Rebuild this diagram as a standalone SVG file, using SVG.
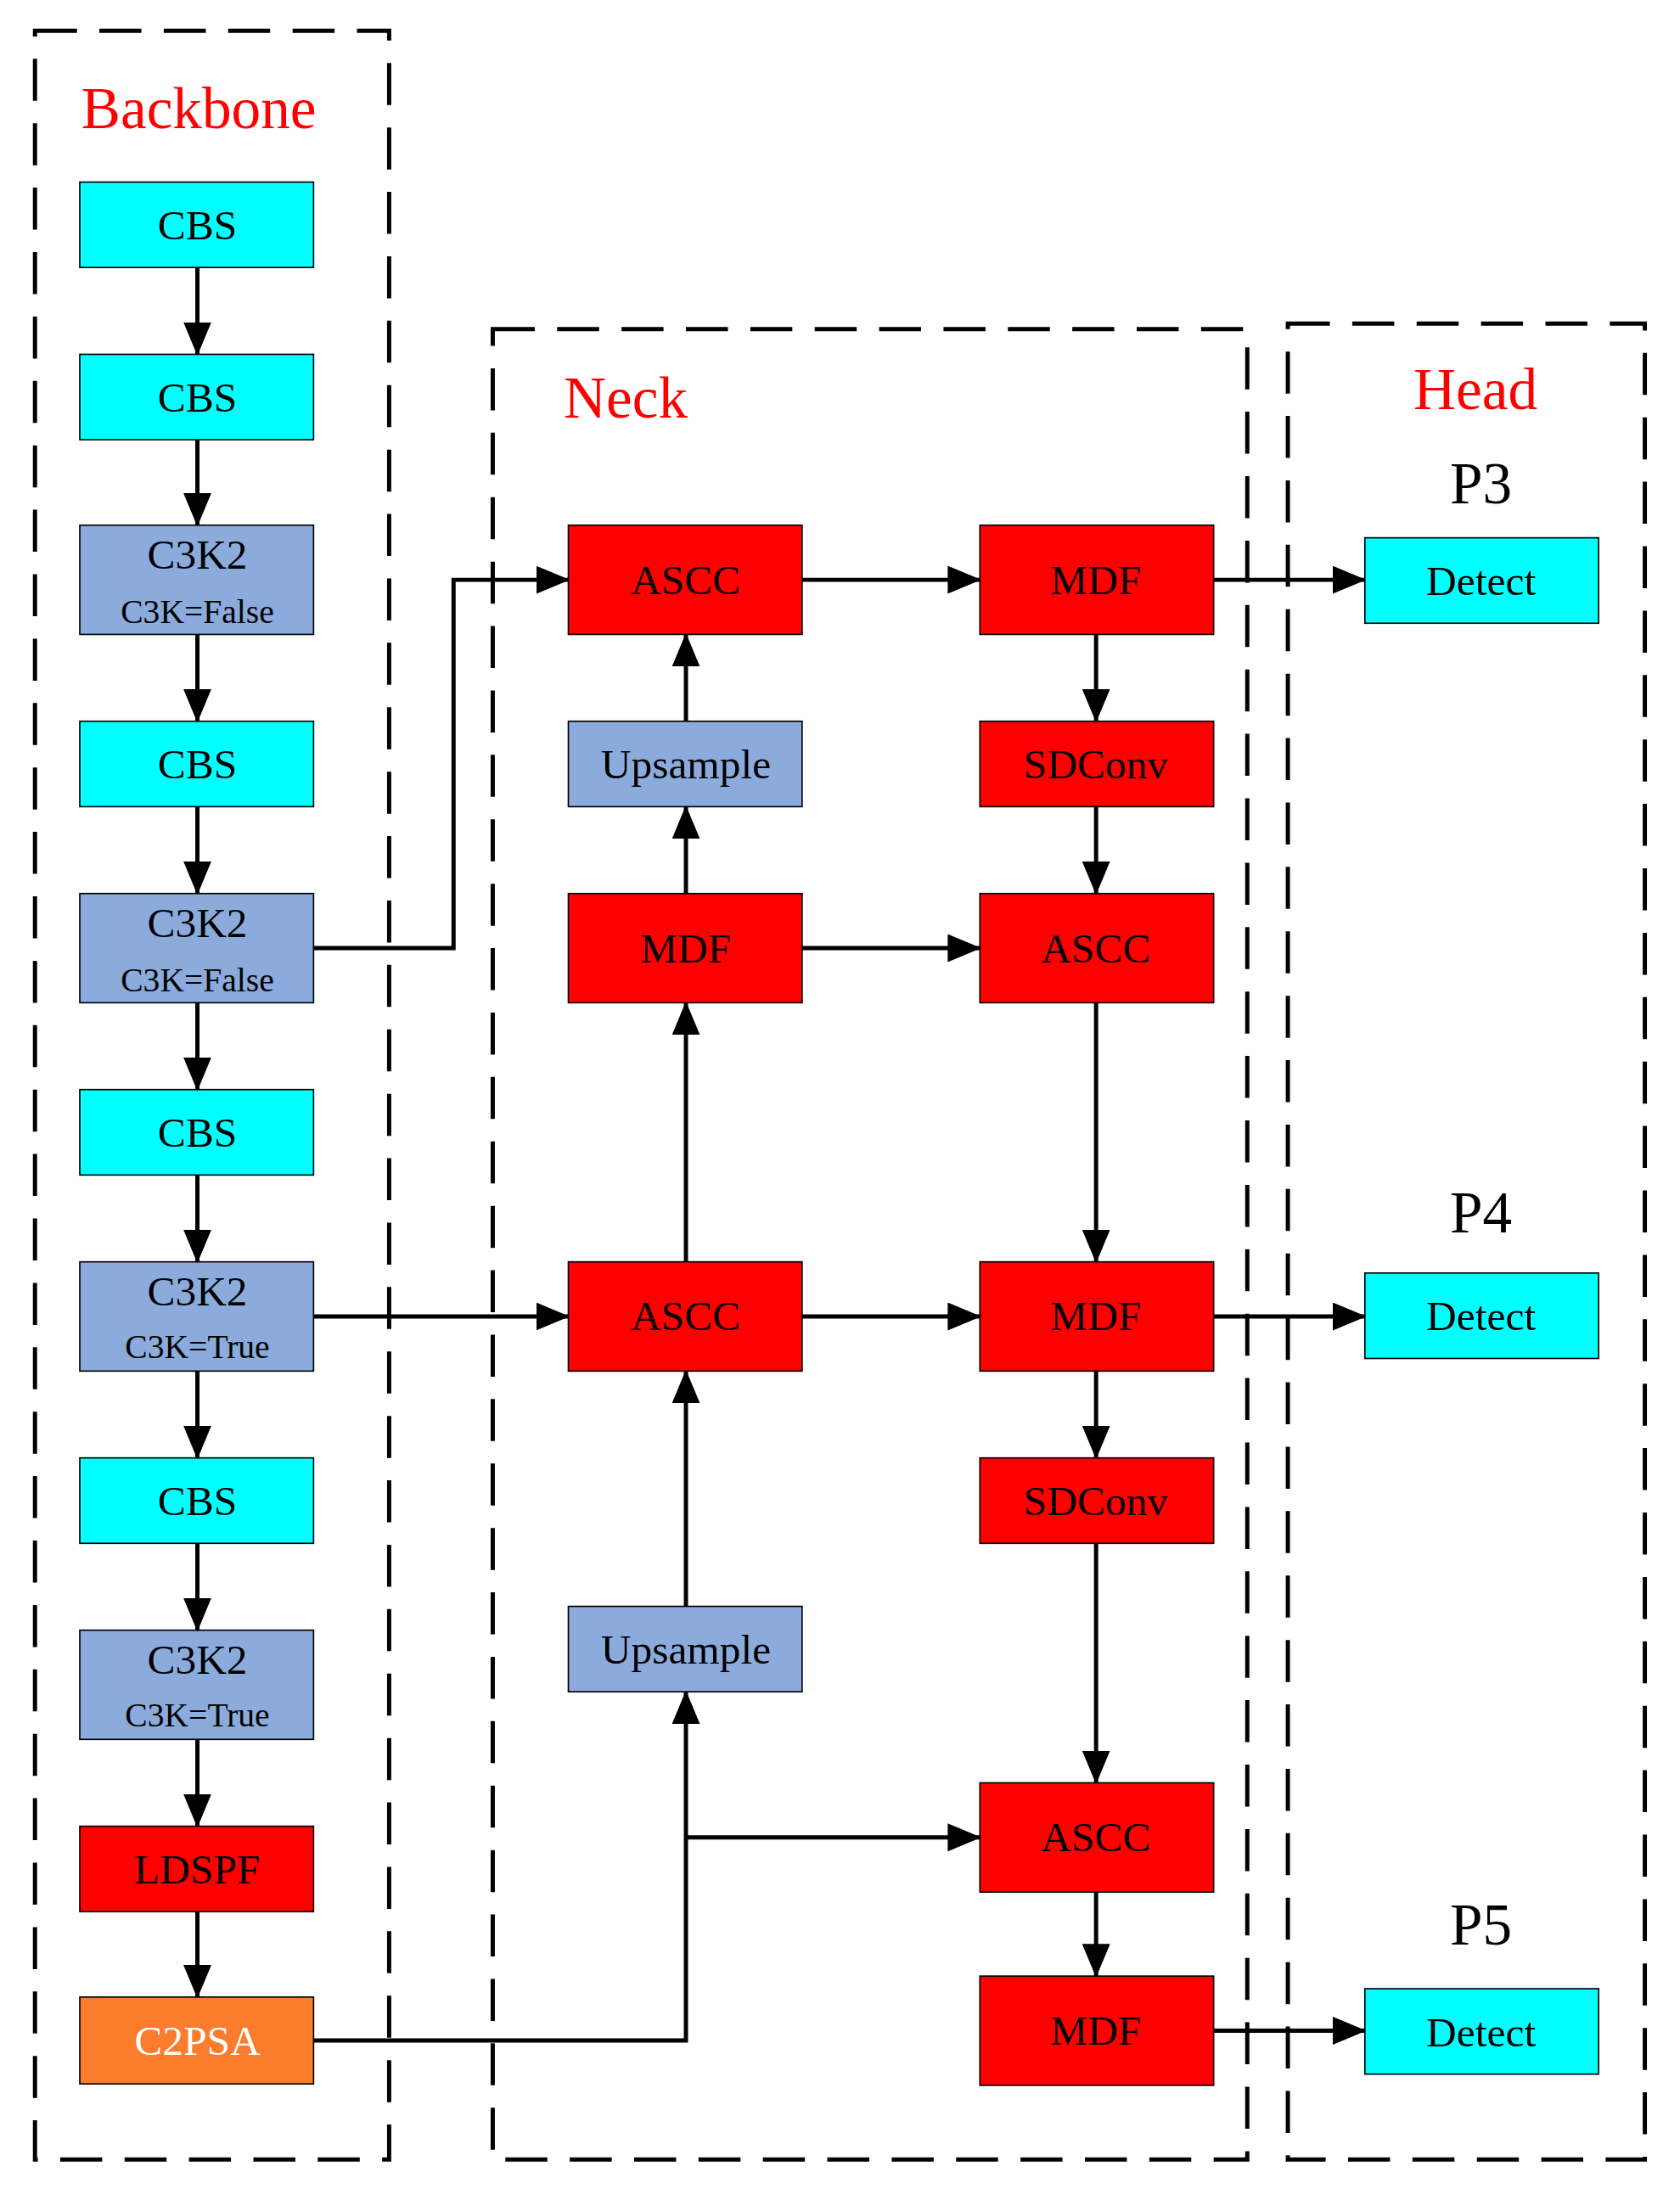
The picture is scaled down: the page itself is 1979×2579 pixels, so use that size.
<svg xmlns="http://www.w3.org/2000/svg" width="1979" height="2579" viewBox="0 0 1979 2579">
<style>
.t{font-family:"Liberation Serif",serif;font-size:30px;text-anchor:middle;dominant-baseline:central}
.s{font-size:24px}
.w{fill:#fff}
.lab{font-family:"Liberation Serif",serif;font-size:42px;fill:#ff0000;text-anchor:middle;dominant-baseline:central}
.p{font-family:"Liberation Serif",serif;font-size:42px;fill:#000;text-anchor:middle;dominant-baseline:central}
.b{stroke:#000;stroke-width:1}
.cy{fill:#00ffff}.bl{fill:#8aabdc}.rd{fill:#ff0000}.or{fill:#fb7c2c}
.d{fill:none;stroke:#000;stroke-width:3;stroke-dasharray:30 16}
.c{fill:none;stroke:#000;stroke-width:3}
</style>
<defs><marker id="a" markerUnits="userSpaceOnUse" markerWidth="24" markerHeight="20" refX="23" refY="10" orient="auto"><path d="M0,0 L24,10 L0,20 Z" fill="#000"/></marker></defs>
<rect width="1979" height="2579" fill="#fff"/>
<g transform="scale(1.649,1.65)">
<g id="groups">
<rect class="d" x="25" y="22" width="253" height="1520"/>
<rect class="d" x="352" y="235" width="539" height="1307"/>
<rect class="d" x="920" y="231" width="255" height="1311"/>
<text class="lab" x="142" y="77">Backbone</text>
<text class="lab" x="447" y="284">Neck</text>
<text class="lab" x="1054" y="278">Head</text>
<text class="p" x="1058" y="345">P3</text>
<text class="p" x="1058" y="866">P4</text>
<text class="p" x="1058" y="1374">P5</text>
</g>
<g id="backbone">
<g id="b1"><rect class="b cy" x="57" y="130" width="167" height="61"/><text class="t" x="141" y="161">CBS</text></g>
<g id="b2"><rect class="b cy" x="57" y="253" width="167" height="61"/><text class="t" x="141" y="284">CBS</text></g>
<g id="b3"><rect class="b bl" x="57" y="375" width="167" height="78"/><text class="t" x="141" y="396">C3K2</text><text class="t s" x="141" y="437">C3K=False</text></g>
<g id="b4"><rect class="b cy" x="57" y="515" width="167" height="61"/><text class="t" x="141" y="546">CBS</text></g>
<g id="b5"><rect class="b bl" x="57" y="638" width="167" height="78"/><text class="t" x="141" y="659">C3K2</text><text class="t s" x="141" y="700">C3K=False</text></g>
<g id="b6"><rect class="b cy" x="57" y="778" width="167" height="61"/><text class="t" x="141" y="809">CBS</text></g>
<g id="b7"><rect class="b bl" x="57" y="901" width="167" height="78"/><text class="t" x="141" y="922">C3K2</text><text class="t s" x="141" y="962">C3K=True</text></g>
<g id="b8"><rect class="b cy" x="57" y="1041" width="167" height="61"/><text class="t" x="141" y="1072">CBS</text></g>
<g id="b9"><rect class="b bl" x="57" y="1164" width="167" height="78"/><text class="t" x="141" y="1185">C3K2</text><text class="t s" x="141" y="1225">C3K=True</text></g>
<g id="b10"><rect class="b rd" x="57" y="1304" width="167" height="61"/><text class="t" x="141" y="1335">LDSPF</text></g>
<g id="b11"><rect class="b or" x="57" y="1426" width="167" height="62"/><text class="t w" x="141" y="1457">C2PSA</text></g>
</g>
<g id="neck">
<g id="n1"><rect class="b rd" x="406" y="375" width="167" height="78"/><text class="t" x="490" y="414">ASCC</text></g>
<g id="n2"><rect class="b bl" x="406" y="515" width="167" height="61"/><text class="t" x="490" y="546">Upsample</text></g>
<g id="n3"><rect class="b rd" x="406" y="638" width="167" height="78"/><text class="t" x="490" y="677">MDF</text></g>
<g id="n4"><rect class="b rd" x="406" y="901" width="167" height="78"/><text class="t" x="490" y="940">ASCC</text></g>
<g id="n5"><rect class="b bl" x="406" y="1147" width="167" height="61"/><text class="t" x="490" y="1178">Upsample</text></g>
<g id="m1"><rect class="b rd" x="700" y="375" width="167" height="78"/><text class="t" x="783" y="414">MDF</text></g>
<g id="m2"><rect class="b rd" x="700" y="515" width="167" height="61"/><text class="t" x="783" y="546">SDConv</text></g>
<g id="m3"><rect class="b rd" x="700" y="638" width="167" height="78"/><text class="t" x="783" y="677">ASCC</text></g>
<g id="m4"><rect class="b rd" x="700" y="901" width="167" height="78"/><text class="t" x="783" y="940">MDF</text></g>
<g id="m5"><rect class="b rd" x="700" y="1041" width="167" height="61"/><text class="t" x="783" y="1072">SDConv</text></g>
<g id="m6"><rect class="b rd" x="700" y="1273" width="167" height="78"/><text class="t" x="783" y="1312">ASCC</text></g>
<g id="m7"><rect class="b rd" x="700" y="1411" width="167" height="78"/><text class="t" x="783" y="1450">MDF</text></g>
</g>
<g id="head">
<g id="h1"><rect class="b cy" x="975" y="384" width="167" height="61"/><text class="t" x="1058" y="415">Detect</text></g>
<g id="h2"><rect class="b cy" x="975" y="909" width="167" height="61"/><text class="t" x="1058" y="940">Detect</text></g>
<g id="h3"><rect class="b cy" x="975" y="1420" width="167" height="61"/><text class="t" x="1058" y="1451">Detect</text></g>
</g>
<g id="connectors" marker-end="url(#a)">
<path class="c" d="M141,191V253" marker-end="url(#a)"/>
<path class="c" d="M141,314V375" marker-end="url(#a)"/>
<path class="c" d="M141,453V515" marker-end="url(#a)"/>
<path class="c" d="M141,576V638" marker-end="url(#a)"/>
<path class="c" d="M141,716V778" marker-end="url(#a)"/>
<path class="c" d="M141,839V901" marker-end="url(#a)"/>
<path class="c" d="M141,979V1041" marker-end="url(#a)"/>
<path class="c" d="M141,1102V1164" marker-end="url(#a)"/>
<path class="c" d="M141,1242V1304" marker-end="url(#a)"/>
<path class="c" d="M141,1365V1426" marker-end="url(#a)"/>
<path class="c" d="M224,677H324V414H406" marker-end="url(#a)"/>
<path class="c" d="M224,940H406" marker-end="url(#a)"/>
<path class="c" d="M224,1457H490V1208" marker-end="url(#a)"/>
<path class="c" d="M490,1312H700" marker-end="url(#a)"/>
<path class="c" d="M490,1147V979" marker-end="url(#a)"/>
<path class="c" d="M490,901V716" marker-end="url(#a)"/>
<path class="c" d="M490,638V576" marker-end="url(#a)"/>
<path class="c" d="M490,515V453" marker-end="url(#a)"/>
<path class="c" d="M573,414H700" marker-end="url(#a)"/>
<path class="c" d="M573,677H700" marker-end="url(#a)"/>
<path class="c" d="M573,940H700" marker-end="url(#a)"/>
<path class="c" d="M783,453V515" marker-end="url(#a)"/>
<path class="c" d="M783,576V638" marker-end="url(#a)"/>
<path class="c" d="M783,716V901" marker-end="url(#a)"/>
<path class="c" d="M783,979V1041" marker-end="url(#a)"/>
<path class="c" d="M783,1102V1273" marker-end="url(#a)"/>
<path class="c" d="M783,1351V1411" marker-end="url(#a)"/>
<path class="c" d="M867,414H975" marker-end="url(#a)"/>
<path class="c" d="M867,940H975" marker-end="url(#a)"/>
<path class="c" d="M867,1450H975" marker-end="url(#a)"/>
</g>
</g>
</svg>
